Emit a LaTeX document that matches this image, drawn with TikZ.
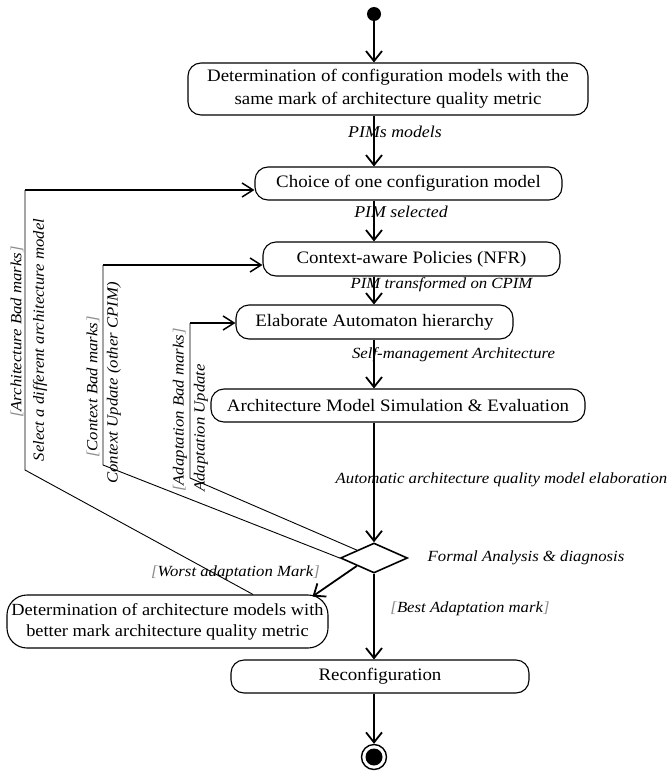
\documentclass[tikz,border=0pt]{standalone}
\usepackage{fontspec}
\setmainfont{Liberation Serif}[FakeStretch=1.08]
\usetikzlibrary{arrows.meta,shapes.geometric}
\newcommand\guardtxt[1]{\textcolor{black!45}{[}#1\textcolor{black!45}{]}}
\begin{document}
\begin{tikzpicture}[x=1pt,y=-1pt,
  box/.style={draw, line width=1.1pt, rounded corners=13pt, align=center,
    font=\fontsize{17.5}{23}\selectfont, inner sep=0pt},
  lbl/.style={font=\itshape\fontsize{15.5}{18}\selectfont, inner sep=0pt},
  main/.style={line width=1.8pt, -{Straight Barb[length=10pt,width=16pt]}},
  thinl/.style={line width=0.9pt},
  backarr/.style={line width=1.5pt, -{Straight Barb[length=11pt,width=14pt]}},
  decision/.style={diamond, draw, line width=1.6pt, minimum width=67pt,
    minimum height=30pt, inner sep=0pt},
  startdot/.style={circle, fill, minimum size=14pt, inner sep=0pt},
  endstate/.style={circle, draw, line width=1.4pt, minimum size=25pt, inner sep=0pt,
    path picture={\fill (path picture bounding box.center) circle (8.5pt);}}
]
\useasboundingbox (0,0) rectangle (668,771);

% activity nodes
\node[startdot] (start) at (374,14) {};
\node[box, minimum width=400pt, minimum height=52pt] (b1) at (388,89)
  {Determination of configuration models with the\\same mark of architecture quality metric};
\node[box, minimum width=307pt, minimum height=33pt] (b2) at (408.5,183.5)
  {Choice of one configuration model};
\node[box, minimum width=297pt, minimum height=34pt] (b3) at (411.5,259)
  {Context-aware Policies (NFR)};
\node[box, minimum width=277pt, minimum height=34pt] (b4) at (374.5,322)
  {Elaborate Automaton hierarchy};
\node[box, minimum width=374pt, minimum height=33pt] (b5) at (398,405.5)
  {Architecture Model Simulation \& Evaluation};
\node[decision] (dec) at (374,558) {};
\node[box, rounded corners=20pt, minimum width=321pt, minimum height=53pt,
  font=\fontsize{17}{21}\selectfont] (b6) at (167.5,621.5)
  {Determination of architecture models with\\better mark architecture quality metric};
\node[box, minimum width=298pt, minimum height=33pt] (b7) at (380,676.5)
  {Reconfiguration};
\node[endstate] (end) at (374,757) {};

% main flow
\draw[main] (start) -- (b1.north -| start);
\draw[main] (b1.south -| start) -- (b2.north -| start);
\draw[main] (b2.south -| start) -- (b3.north -| start);
\draw[main] (b3.south -| start) -- (b4.north -| start);
\draw[main] (b4.south -| start) -- (b5.north -| start);
\draw[main] (b5.south -| start) -- (dec.north);
\draw[main] (dec.south) -- (b7.north -| dec.south);
\draw[main] (b7.south -| end) -- (end.north);
\draw[main] (dec.south west) -- ([xshift=145pt,yshift=-2pt]b6.north);

% feedback loops
\coordinate (a1) at (25,470);
\coordinate (a2) at (25,190);
\draw[thinl] ([xshift=85.5pt]b6.north) -- (a1) -- (a2);
\draw[backarr] (a2) -- (a2 -| b2.west);
\coordinate (c1) at (103,465);
\coordinate (c2) at (103,265);
\draw[thinl] (dec.west) -- (c1) -- (c2);
\draw[backarr] (c2) -- (c2 -| b3.west);
\coordinate (p1) at (190,478);
\coordinate (p2) at (190,323);
\draw[thinl] (dec.north west) -- (p1) -- (p2);
\draw[backarr] (p2) -- (p2 -| b4.west);

% labels
\node[lbl, font=\itshape\fontsize{16.5}{18}\selectfont] (l1) at (395,132) {PIMs models};
\node[lbl, font=\itshape\fontsize{16.5}{18}\selectfont] (l2) at (401,212) {PIM selected};
\node[lbl] (l3) at (441.5,285) {PIM transformed on CPIM};
\node[lbl] (l4) at (453.5,355) {Self-management Architecture};
\node[lbl] (l5) at (501.5,480) {Automatic architecture quality model elaboration};
\node[lbl] (l6) at (526,558) {Formal Analysis \& diagnosis};
\node[lbl] (l7) at (235.5,573) {\guardtxt{Worst adaptation Mark}};
\node[lbl] (l8) at (470,609) {\guardtxt{Best Adaptation mark}};

\node[lbl, rotate=90] (r1) at (17,332) {\guardtxt{Architecture Bad marks}};
\node[lbl, rotate=90] (r2) at (40,340) {Select a different architecture model};
\node[lbl, rotate=90] (r3) at (93,387) {\guardtxt{Context Bad marks}};
\node[lbl, rotate=90] (r4) at (114,383) {Context Update (other CPIM)};
\node[lbl, rotate=90] (r5) at (180,410) {\guardtxt{Adaptation Bad marks}};
\node[lbl, rotate=90] (r6) at (201,428) {Adaptation Update};
\end{tikzpicture}
\end{document}
